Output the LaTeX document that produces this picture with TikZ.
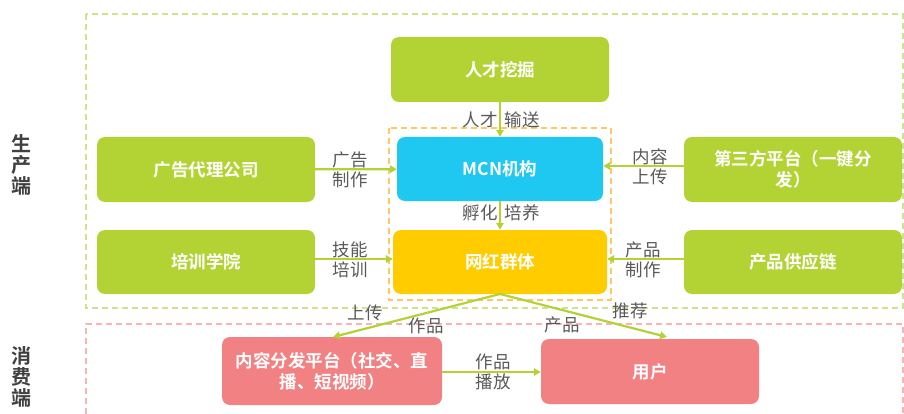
\documentclass[tikz,border=0pt]{standalone}
\usepackage{fontspec}
\setmainfont{Noto Sans CJK SC}[BoldFont=* Bold]
\usetikzlibrary{arrows.meta}
\definecolor{mgreen}{RGB}{179,211,52}
\definecolor{mblue}{RGB}{31,200,241}
\definecolor{myellow}{RGB}{255,204,0}
\definecolor{mpink}{RGB}{242,129,131}
\definecolor{labgray}{RGB}{89,89,89}
\definecolor{sidegray}{RGB}{64,64,64}
\definecolor{dgreen}{RGB}{205,228,140}
\definecolor{dorange}{RGB}{255,200,100}
\definecolor{dpink}{RGB}{248,180,182}
\tikzset{
	box/.style={rounded corners=8pt, text=white, align=center,
		font=\bfseries\fontsize{17.5}{21}\selectfont, inner sep=0pt},
	lab/.style={text=labgray, align=center, inner sep=0pt,
		font=\fontsize{17.5}{20}\selectfont},
	side/.style={text=sidegray, align=center, inner sep=0pt,
		font=\bfseries\fontsize{20}{21}\selectfont},
	flow/.style={draw=mgreen, line width=2.2pt, -{Triangle[length=7pt,width=7.5pt]}},
	zone/.style={dashed, line width=1.2pt, dash pattern=on 6pt off 4pt}
}
\begin{document}
\begin{tikzpicture}[x=1pt,y=-1pt]
			\useasboundingbox (0,0) rectangle (904,414);
			
			% dashed areas
			\draw[zone, draw=dgreen] (86,14) rectangle (903,308);
			\draw[zone, draw=dpink] (86,414) -- (86,324) -- (903,324) -- (903,414);
			\draw[zone, draw=dorange] (389,128) rectangle (611,300);
			
			\node	(p) at (22,165) [side] {生\\产\\端};
			\node	(q) at (22,377) [side] {消\\费\\端};
			
			\node	(a) at (500,69.5) [box, fill=mgreen, minimum width=218pt, minimum height=65pt] {人才挖掘};
			\node	(b) at (206,169.5) [box, fill=mgreen, minimum width=218pt, minimum height=65pt] {广告代理公司};
			\node	(c) at (500,169) [box, fill=mblue, minimum width=206pt, minimum height=64pt] {MCN机构};
			\node	(d) at (793,169.5) [box, fill=mgreen, minimum width=218pt, minimum height=65pt] {第三方平台（一键分\\发）};
			\node	(e) at (206,262) [box, fill=mgreen, minimum width=218pt, minimum height=64pt] {培训学院};
			\node	(f) at (500,262) [box, fill=myellow, minimum width=214pt, minimum height=64pt] {网红群体};
			\node	(g) at (793,262) [box, fill=mgreen, minimum width=218pt, minimum height=64pt] {产品供应链};
			\node	(h) at (332,371) [box, fill=mpink, minimum width=220pt, minimum height=68pt] {内容分发平台（社交、直\\播、短视频）};
			\node	(i) at (650,371.5) [box, fill=mpink, minimum width=218pt, minimum height=65pt] {用户};
			
			\coordinate (s) at (500,294);
			\coordinate (t) at (333,337);
			\coordinate (u) at (667,337);
			
			\draw 
			(a) edge[flow] (c)
			(b) edge[flow] (c)
			(d.west |- 0,166) edge[flow] (c.east |- 0,166)
			(c) edge[flow] (f)
			(e.east |- 0,259) edge[flow] (f.west |- 0,259)
			(g.west |- 0,259) edge[flow] (f.east |- 0,259)
			(s) edge[flow] (t)
			(s) edge[flow] (u)
			(h.east |- 0,372) edge[flow] (i.west |- 0,372)
			;
			
			% labels
			\node	(l1) at (501,120) [lab] {人才\hspace{7pt}输送};
			\node	(l2) at (350,170) [lab] {广告\\制作};
			\node	(l3) at (650,167) [lab] {内容\\上传};
			\node	(l4) at (501,213) [lab] {孵化\hspace{7pt}培养};
			\node	(l5) at (350,260) [lab] {技能\\培训};
			\node	(l6) at (643,260) [lab] {产品\\制作};
			\node	(l7) at (365,313) [lab] {上传};
			\node	(l8) at (426,326) [lab] {作品};
			\node	(l9) at (630,311) [lab] {推荐};
			\node	(l10) at (562,325) [lab] {产品};
			\node	(l11) at (493,372) [lab] {作品\\播放};
		\end{tikzpicture}
\end{document}
